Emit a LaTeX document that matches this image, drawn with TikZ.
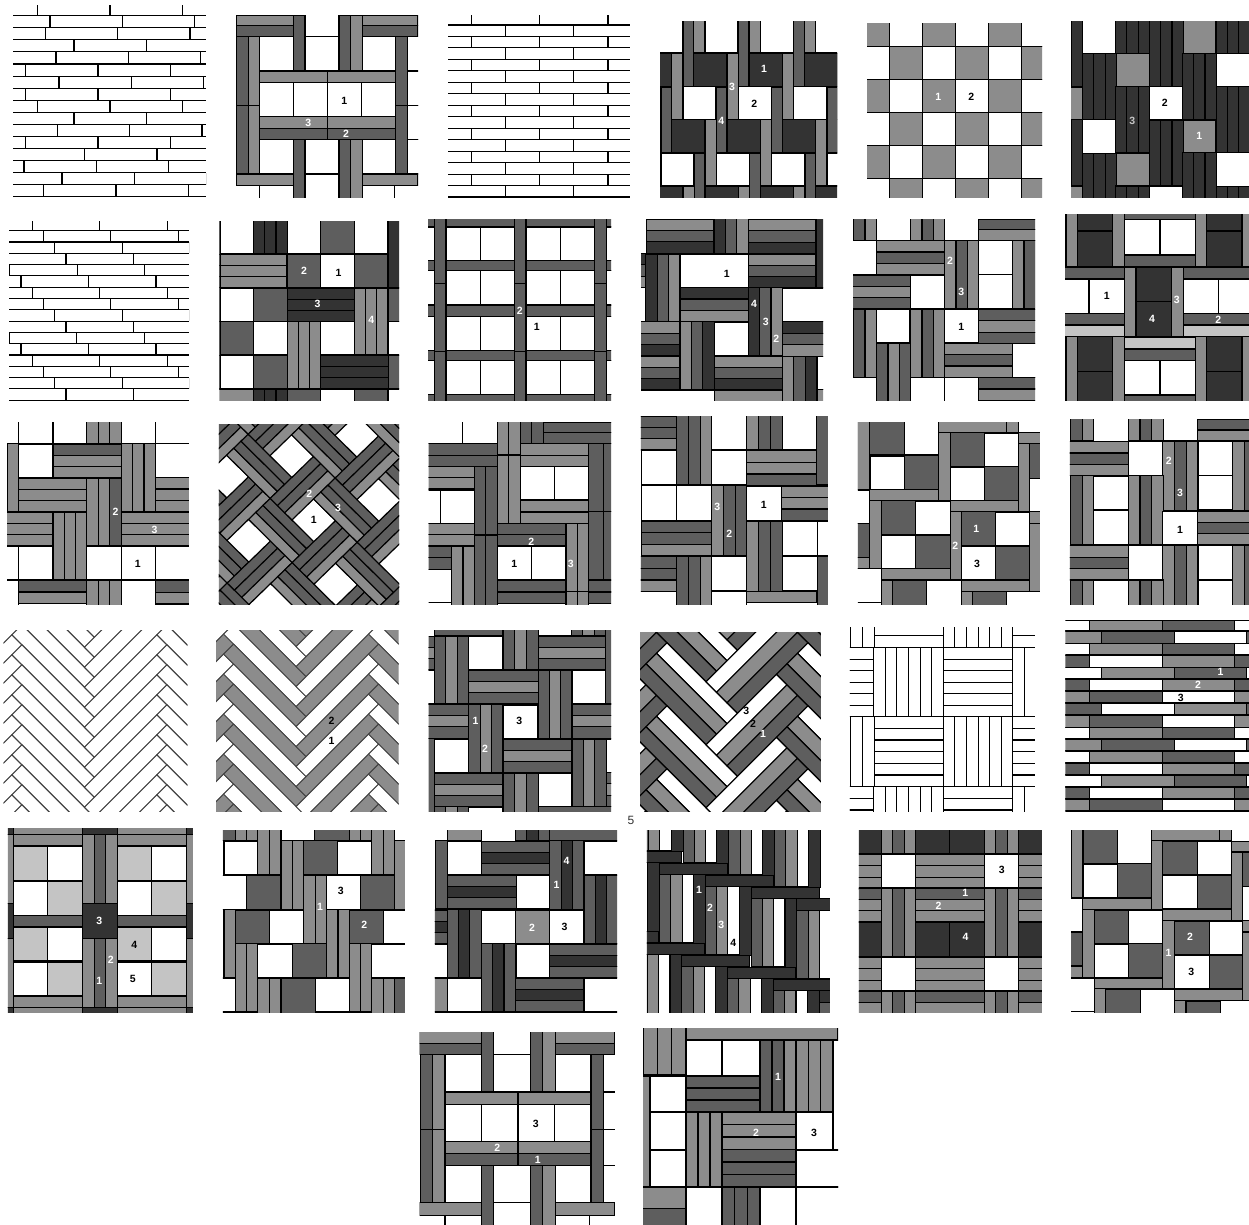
\documentclass[tikz,border=0pt]{standalone}
\usepackage{fontspec}
\newfontfamily\labfont{Liberation Sans}
\definecolor{G}{HTML}{8C8C8C}
\definecolor{D}{HTML}{5E5E5E}
\definecolor{K}{HTML}{333333}
\definecolor{L}{HTML}{C4C4C4}
\definecolor{W}{HTML}{FFFFFF}
\newcounter{labno}
\tikzset{
  plank/.style={draw=black, line width=1.1pt},
  thinplank/.style={draw=black!75, line width=0.9pt},
  numlab/.style={inner sep=0pt, font=\labfont\bfseries\fontsize{10.5}{11}\selectfont},
  fivelab/.style={inner sep=0pt, font=\labfont\fontsize{12}{13}\selectfont, text=black!80}
}
\newcommand\tile[9]{\pgfmathsetmacro\sxx{1/#3}\pgfmathsetmacro\syy{-1/#4}%
  \begin{scope}[shift={(#1,#2)}]\begin{scope}[x=\sxx pt,y=\syy pt]
  \clip (#5,#6) rectangle (#7,#8); #9
  \end{scope}\end{scope}}
\newcommand\plank[5]{\draw[plank,fill=#1] ({#2},{#3}) -- ({#4},{#3}) -- ({#4},{#5}) -- ({#2},{#5}) -- cycle;}
\newcommand\countstrips[1]{\gdef\nn{0}\foreach \pc in {#1}{\pgfmathtruncatemacro\mm{\nn+1}\global\let\nn\mm}}
\newcommand\hset[5]{\countstrips{#5}\foreach \pc [count=\k from 0] in {#5}{\plank{\pc}{#1}{#3+\k*(#4-#3)/\nn}{#2}{#3+(\k+1)*(#4-#3)/\nn}}}
\newcommand\vset[5]{\countstrips{#5}\foreach \pc [count=\k from 0] in {#5}{\plank{\pc}{#1+\k*(#2-#1)/\nn}{#3}{#1+(\k+1)*(#2-#1)/\nn}{#4}}}
\newcommand\lattice[7]{\foreach \ii in {-#1,...,#1}{\foreach \jj in {-#2,...,#2}{\begin{scope}[shift={({\ii*#3+\jj*#5},{\ii*#4+\jj*#6})}] #7 \end{scope}}}}
\newcommand\bricks[6]{\foreach \vv [count=\k from 0] in {#6}{\draw[plank] (#1,{#3+\k*#4}) -- (#2,{#3+\k*#4});
  \foreach \m in {-1,...,3}{\draw[plank] ({\vv+\m*#5},{#3+(\k-1)*#4}) -- ({\vv+\m*#5},{#3+\k*#4});}}}
\newcommand\brow[7]{\plank{#4}{#3-182}{#1}{#3}{#2}\plank{#5}{#3}{#1}{#3+182}{#2}\plank{#6}{#3+182}{#1}{#3+364}{#2}\plank{#7}{#3+364}{#1}{#3+546}{#2}}
\newcommand\chev[1]{\draw[thinplank,fill=#1] (0,0) -- (-10,10) -- (-82.5,-62.5) -- (-72.5,-72.5) -- cycle;
  \draw[thinplank,fill=#1] (0,0) -- (-10,-10) -- (62.5,-82.5) -- (72.5,-72.5) -- cycle;}
\newcommand\chevb{\foreach \s/\pc in {0/W,1/G,2/D}{
  \draw[plank,fill=\pc] ({-\s*10.5},{\s*10.5}) -- ({-(\s+1)*10.5},{(\s+1)*10.5}) -- ({-(\s+1)*10.5-70.5},{(\s+1)*10.5-70.5}) -- ({-\s*10.5-70.5},{\s*10.5-70.5}) -- cycle;
  \draw[plank,fill=\pc] ({-(3-\s)*10.5},{-(3-\s)*10.5}) -- ({-(2-\s)*10.5},{-(2-\s)*10.5}) -- ({-(2-\s)*10.5+70.5},{-(2-\s)*10.5-70.5}) -- ({-(3-\s)*10.5+70.5},{-(3-\s)*10.5-70.5}) -- cycle;}}
\newcommand\numlab[4]{\stepcounter{labno}\node[numlab,text=#1] (lab\thelabno) at (#2,#3) {#4};}
\newcommand\openweave{%
  \hset{708}{880}{45}{109}{G,D}\hset{1087}{1254}{45}{109}{G,D}
  \plank{D}{880}{45}{915}{213}\vset{1017}{1087}{45}{213}{D,G}\plank{W}{915}{109}{1017}{213}
  \vset{710}{779}{109}{317}{D,G}\vset{710}{779}{317}{522}{D,G}
  \plank{W}{779}{109}{880}{213}\plank{W}{1087}{109}{1187}{213}
  \plank{G}{779}{213}{983}{248}\plank{G}{983}{213}{1187}{248}
  \foreach \xa/\xb in {779/881,881/983,983/1085,1085/1187}{\plank{W}{\xa}{248}{\xb}{350}}
  \plank{G}{779}{350}{983}{385}\plank{G}{983}{350}{1187}{385}
  \plank{D}{779}{385}{983}{419}\plank{D}{983}{385}{1187}{419}
  \plank{W}{779}{419}{880}{522}\plank{D}{880}{419}{915}{620}\plank{W}{915}{419}{1017}{522}\plank{W}{915}{522}{1017}{620}
  \vset{1017}{1087}{419}{620}{D,G}\plank{W}{1087}{419}{1187}{522}
  \plank{D}{1187}{109}{1222}{317}\plank{D}{1187}{317}{1222}{522}
  \plank{W}{1222}{213}{1300}{317}\plank{W}{1222}{317}{1300}{419}\plank{W}{1222}{419}{1300}{522}
  \plank{G}{708}{522}{880}{557}\plank{G}{1087}{522}{1254}{557}
  \plank{W}{779}{557}{880}{640}\plank{W}{1087}{557}{1183}{640}}
\begin{document}
\begin{tikzpicture}[x=1pt,y=-1pt]
\useasboundingbox (0,0) rectangle (1249,1224);
\fill[white] (0,0) rectangle (1249,1224);
\node[fivelab] (five) at (631,820) {5};
\tile{0}{0}{3}{3}{39}{15}{618}{594}{\bricks{39}{618}{47}{36.25}{217}{113,150,136,222,168,77,177,77,113,222,172,77,254,72,186,131}}
\tile{0}{0}{3}{3}{708}{45}{1254}{593}{\openweave
  \numlab{black}{1033}{302}{1}\numlab{white}{925}{370}{3}\numlab{white}{1038}{402}{2}}
\tile{425}{0}{3}{3}{69}{45}{615}{594}{\bricks{69}{615}{75}{34.4}{205}{139,241,139,241,139,241,139,241,139,241,139,241,139,241,139,241}}
\tile{425}{0}{3}{3}{705}{63}{1236}{593}{\lattice{4}{3}{166}{0}{-66}{199}{\plank{K}{806}{160}{906}{260}\plank{G}{906}{160}{940}{358}\plank{D}{940}{62}{972}{260}\plank{W}{774}{260}{873}{358}}
  \numlab{white}{1017}{208}{1}\numlab{black}{988}{312}{2}\numlab{white}{921}{262}{3}\numlab{white}{889}{362}{4}}
\tile{850}{0}{3}{3}{51}{69}{576}{593}{\lattice{3}{5}{198}{0}{99}{99}{\plank{G}{118}{140}{217}{238}\plank{W}{217}{140}{316}{238}}
  \numlab{white}{265}{290}{1}\numlab{black}{364}{290}{2}}
\tile{850}{0}{3}{3}{663}{63}{1197}{593}{\lattice{3}{3}{200.5}{-99.5}{0}{298}{\vset{797}{898}{260}{458}{K,K,K}\vset{898}{1000}{360}{558}{K,K,K}\plank{W}{898}{260}{1000}{360}\plank{G}{1000}{360}{1098}{458}}
  \numlab{black}{944}{308}{2}\numlab{L}{847}{362}{3}\numlab{white}{1048}{408}{1}}
\tile{0}{205}{3}{3}{27}{48}{567}{587}{\bricks{27}{567}{77}{33.9}{202.5}{97,130,164,198,232,63,97,130,164,198,28,63,97,130,164,198}}
\tile{0}{205}{3}{3}{658}{48}{1197}{585}{
  \hset{660}{860}{148}{247}{G,G,G}\vset{760}{862}{30}{147}{K,K,K}\plank{W}{660}{30}{760}{147}\plank{W}{862}{30}{962}{147}\plank{D}{962}{30}{1064}{147}\plank{W}{1064}{30}{1164}{147}\plank{K}{1164}{30}{1230}{247}
  \plank{D}{862}{148}{962}{247}\plank{W}{962}{148}{1064}{247}\plank{D}{1064}{148}{1164}{247}
  \plank{W}{660}{249}{760}{349}\plank{D}{760}{249}{862}{349}\hset{862}{1064}{249}{349}{K,K,K}\vset{1064}{1164}{249}{450}{G,G,G}\plank{D}{1164}{249}{1230}{349}
  \plank{D}{660}{349}{760}{450}\plank{W}{760}{349}{862}{450}\vset{862}{962}{349}{552}{G,G,G}\plank{W}{962}{349}{1064}{450}\plank{W}{1164}{349}{1230}{450}
  \plank{W}{660}{452}{760}{552}\plank{D}{760}{452}{862}{552}\hset{962}{1165}{452}{552}{K,K,K}\plank{D}{1165}{452}{1230}{552}
  \plank{G}{640}{552}{760}{620}\vset{760}{862}{552}{620}{K,K,K}\plank{D}{862}{552}{962}{620}\plank{D}{1064}{552}{1164}{620}
  \numlab{white}{912}{196}{2}\numlab{black}{1016}{204}{1}\numlab{white}{953}{297}{3}\numlab{white}{1114}{344}{4}}
\tile{425}{205}{3}{3}{9}{42}{558}{587}{
  \foreach \ya/\yb in {30/66,167/197,300/334,437/467,568/610}{\plank{D}{0}{\ya}{28}{\yb}\plank{D}{63}{\ya}{268}{\yb}\plank{D}{303}{\ya}{509}{\yb}\plank{D}{544}{\ya}{570}{\yb}}
  \foreach \ya/\yb in {66/167,197/300,334/437,467/568}{\plank{W}{0}{\ya}{28}{\yb}\plank{W}{63}{\ya}{166}{\yb}\plank{W}{166}{\ya}{268}{\yb}\plank{W}{303}{\ya}{406}{\yb}\plank{W}{406}{\ya}{509}{\yb}\plank{W}{544}{\ya}{570}{\yb}}
  \foreach \xa in {28,268,509}{\plank{D}{\xa}{30}{\xa+35}{236}\plank{D}{\xa}{236}{\xa+35}{440}\plank{D}{\xa}{440}{\xa+35}{610}}
  \numlab{white}{284}{316}{2}\numlab{black}{335}{366}{1}}
\tile{425}{205}{3}{3}{648}{42}{1194}{587}{
  \hset{664}{867}{42}{145}{G,D,K}\vset{867}{970}{30}{145}{K,D,G}\hset{970}{1173}{42}{147}{G,D,K}\plank{K}{1173}{30}{1230}{248}
  \hset{630}{662}{145}{248}{K,D,G}\vset{662}{765}{147}{350}{K,D,G}\plank{W}{765}{147}{970}{248}\hset{970}{1173}{147}{248}{G,D,K}
  \hset{765}{970}{248}{350}{K,D,G}\vset{970}{1072}{248}{452}{K,D,G}\plank{W}{1072}{250}{1230}{350}
  \hset{630}{765}{350}{453}{G,D,K}\vset{765}{868}{350}{555}{G,D,K}\plank{W}{868}{352}{970}{452}\hset{1072}{1230}{350}{454}{K,D,G}
  \hset{630}{765}{454}{555}{G,D,K}\hset{868}{1072}{454}{555}{G,D,K}\vset{1072}{1176}{454}{620}{G,D,K}\plank{W}{1176}{454}{1230}{553}\plank{G}{1176}{553}{1230}{620}
  \plank{G}{868}{557}{1072}{620}
  \numlab{black}{905}{208}{1}\numlab{white}{987}{298}{4}\numlab{white}{1022}{352}{3}\numlab{white}{1054}{400}{2}}
\tile{850}{205}{3}{3}{9}{42}{555}{587}{
  \vset{10}{80}{30}{107}{D,G}\vset{182}{284}{30}{107}{G,D,G}\hset{386}{590}{42}{107}{D,G}
  \plank{W}{-10}{107}{80}{209}\hset{80}{284}{107}{209}{G,D,G}\vset{284}{386}{107}{312}{G,D,G}\plank{W}{386}{107}{488}{209}\plank{W}{386}{209}{488}{312}\vset{488}{556}{107}{312}{G,D}
  \hset{-10}{182}{210}{312}{D,G,D}\plank{W}{182}{210}{284}{312}
  \vset{10}{80}{312}{517}{D,G}\plank{W}{80}{314}{180}{412}\vset{182}{284}{312}{517}{G,D,G}\plank{W}{284}{314}{386}{412}\hset{386}{590}{314}{415}{D,G,D}
  \vset{80}{182}{415}{620}{D,G,D}\hset{284}{488}{415}{517}{G,D,G}\plank{W}{488}{415}{590}{517}
  \plank{W}{182}{517}{284}{620}\plank{W}{284}{517}{386}{620}\hset{386}{590}{517}{587}{D,G}\plank{W}{-10}{517}{80}{620}
  \numlab{white}{300}{166}{2}\numlab{white}{334}{260}{3}\numlab{black}{334}{366}{1}}
\tile{850}{205}{3}{3}{645}{27}{1197}{587}{
  \foreach \xa in {0,388}{
    \plank{G}{648+\xa}{10}{682+\xa}{184}\plank{K}{682+\xa}{10}{788+\xa}{78}\plank{K}{682+\xa}{78}{788+\xa}{184}\plank{G}{788+\xa}{10}{824+\xa}{184}
    \plank{G}{648+\xa}{395}{682+\xa}{620}\plank{K}{682+\xa}{395}{788+\xa}{500}\plank{K}{682+\xa}{500}{788+\xa}{620}\plank{G}{788+\xa}{395}{824+\xa}{620}}
  \plank{D}{824}{10}{1036}{44}\plank{W}{824}{44}{930}{150}\plank{W}{930}{44}{1036}{150}\plank{D}{824}{150}{1036}{184}
  \plank{D}{600}{186}{824}{222}\plank{W}{600}{222}{717}{325}\plank{W}{717}{222}{824}{325}\plank{D}{600}{325}{824}{360}\plank{L}{600}{360}{824}{395}
  \plank{G}{824}{186}{858}{395}\plank{K}{858}{186}{964}{290}\plank{K}{858}{290}{964}{395}\plank{G}{964}{186}{1000}{395}
  \plank{D}{1000}{186}{1230}{222}\plank{W}{1000}{222}{1105}{325}\plank{W}{1105}{222}{1230}{325}\plank{D}{1000}{325}{1230}{360}\plank{L}{1000}{360}{1230}{395}
  \plank{L}{824}{397}{1036}{432}\plank{D}{824}{432}{1036}{466}\plank{W}{824}{466}{930}{570}\plank{W}{930}{466}{1036}{570}\plank{D}{824}{570}{1036}{620}
  \numlab{black}{770}{272}{1}\numlab{white}{980}{285}{3}\numlab{white}{906}{342}{4}\numlab{white}{1105}{345}{2}}
\tile{0}{410}{2.509}{3}{18}{36}{474}{582}{
  \plank{W}{47}{20}{133}{101}\plank{W}{133}{20}{218}{101}\vset{218}{304}{20}{101}{G,G,G}\plank{W}{304}{20}{390}{101}\plank{W}{390}{20}{500}{101}
  \plank{G}{18}{101}{47}{305}\plank{W}{47}{103}{133}{203}\hset{133}{304}{103}{203}{D,G,G}\vset{304}{390}{101}{305}{G,G,G}\plank{W}{390}{101}{500}{203}
  \hset{47}{218}{204}{305}{G,G,G}\vset{218}{304}{204}{408}{G,G,D}\hset{390}{500}{203}{305}{G,G,G}
  \hset{0}{133}{308}{408}{G,G,G}\vset{133}{218}{308}{510}{G,G,G}\hset{304}{500}{308}{408}{G,G,G}
  \plank{W}{47}{408}{133}{510}\plank{W}{218}{410}{304}{510}\plank{W}{304}{410}{390}{510}\plank{W}{390}{410}{500}{510}\plank{W}{0}{408}{47}{510}
  \hset{47}{218}{512}{580}{D,G}\vset{218}{304}{512}{600}{G,G,G}\plank{W}{304}{512}{390}{600}\hset{390}{500}{512}{582}{D,G}\plank{W}{0}{510}{47}{600}
  \numlab{white}{290}{306}{2}\numlab{white}{388}{360}{3}\numlab{black}{346}{462}{1}}
\tile{0}{410}{2.509}{3}{549}{42}{1001}{582}{
  \begin{scope}[shift={(732.6,330)},x={(21.6pt,21pt)},y={(21.8pt,-21.6pt)}]
  \lattice{4}{4}{2}{1}{-1}{2}{\plank{W}{0}{0}{1}{1}\vset{1}{2}{0}{2}{G,D,D}\hset{2}{4}{0}{1}{D,D,G}}
  \end{scope}
  \numlab{white}{776}{250}{2}\numlab{white}{848}{295}{3}\numlab{black}{787}{330}{1}}
\tile{0}{410}{2.509}{3}{1075}{36}{1533}{582}{
  \plank{W}{1060}{20}{1161}{101}\plank{W}{1161}{20}{1247}{101}\vset{1247}{1305}{20}{135}{G,G}\vset{1247}{1305}{135}{340}{G,G}\vset{1305}{1363}{20}{101}{D,D}\hset{1363}{1550}{36}{101}{D,D}
  \hset{1060}{1247}{101}{170}{D,D}\hset{1305}{1477}{101}{170}{G,G}\vset{1477}{1550}{101}{305}{D,D}\vset{1477}{1550}{305}{510}{D,D}
  \hset{1060}{1190}{170}{237}{G,G}\vset{1190}{1247}{170}{375}{D,D}\vset{1190}{1247}{375}{600}{D,D}\plank{W}{1305}{170}{1391}{270}\plank{W}{1391}{170}{1477}{270}
  \plank{W}{1060}{240}{1104}{340}\plank{W}{1104}{240}{1190}{340}\hset{1305}{1477}{272}{340}{G,G}
  \hset{1060}{1190}{340}{408}{G,G}\hset{1247}{1420}{340}{408}{D,D}\vset{1420}{1477}{340}{545}{G,G}\vset{1420}{1477}{545}{600}{G,G}
  \plank{W}{1247}{410}{1333}{510}\plank{W}{1333}{410}{1420}{510}\hset{1060}{1133}{408}{478}{D,D}\vset{1133}{1190}{408}{600}{G,G}\plank{W}{1060}{478}{1133}{578}
  \hset{1247}{1420}{512}{580}{D,D}\hset{1477}{1550}{512}{580}{D,D}
  \numlab{white}{1333}{394}{2}\numlab{black}{1290}{462}{1}\numlab{white}{1432}{462}{3}}
\tile{625}{410}{2.513}{3}{40}{18}{510}{582}{
  \hset{20}{130}{18}{120}{D,D,G}\vset{130}{218}{0}{225}{D,D,G}\plank{W}{218}{0}{306}{120}\vset{306}{396}{0}{120}{G,D,D}\plank{W}{396}{0}{482}{120}\plank{D}{482}{0}{530}{225}
  \plank{W}{42}{122}{130}{225}\plank{W}{218}{122}{306}{225}\hset{306}{482}{122}{227}{G,G,D}
  \plank{W}{42}{227}{130}{331}\plank{W}{130}{227}{218}{331}\vset{218}{306}{227}{438}{G,D,D}\plank{W}{306}{229}{394}{331}\hset{394}{530}{229}{331}{G,G,D}
  \hset{42}{218}{333}{438}{D,D,G}\vset{306}{396}{333}{545}{G,D,D}\plank{W}{396}{333}{484}{438}\plank{W}{484}{333}{530}{438}
  \hset{20}{130}{440}{545}{D,D,G}\vset{130}{218}{438}{600}{D,D,G}\plank{W}{218}{440}{306}{542}\plank{W}{396}{440}{484}{542}\plank{D}{484}{438}{530}{600}
  \plank{G}{306}{545}{482}{578}\plank{W}{218}{545}{306}{600}
  \numlab{white}{232}{290}{3}\numlab{white}{262}{372}{2}\numlab{black}{349}{284}{1}}
\tile{625}{410}{2.513}{3}{585}{36}{1043}{582}{
  \plank{G}{585}{20}{615}{238}\plank{D}{615}{20}{703}{135}\plank{G}{787}{20}{958}{67}\plank{G}{958}{20}{988}{67}\plank{G}{787}{67}{817}{272}\plank{D}{817}{67}{903}{170}\plank{W}{903}{69}{988}{170}
  \plank{G}{988}{67}{1060}{100}\plank{G}{988}{100}{1017}{305}\plank{D}{1017}{100}{1060}{205}
  \plank{W}{617}{138}{703}{238}\plank{D}{703}{135}{787}{238}\plank{W}{817}{172}{903}{272}\plank{D}{903}{170}{988}{272}
  \plank{W}{570}{240}{615}{340}\plank{G}{615}{238}{787}{272}\plank{G}{817}{272}{988}{305}\plank{G}{615}{272}{645}{476}\plank{D}{645}{272}{731}{375}\plank{W}{731}{274}{817}{375}\plank{W}{1017}{205}{1060}{305}
  \plank{G}{1017}{305}{1060}{340}\plank{G}{1017}{340}{1060}{545}\plank{G}{817}{305}{846}{510}\plank{D}{846}{305}{931}{408}\plank{W}{931}{308}{1017}{408}
  \plank{D}{570}{340}{615}{442}\plank{G}{570}{442}{615}{476}\plank{W}{645}{375}{731}{476}\plank{D}{731}{375}{817}{476}\plank{W}{846}{410}{931}{510}\plank{D}{931}{408}{1017}{510}
  \plank{W}{570}{476}{645}{578}\plank{G}{645}{476}{817}{510}\plank{G}{846}{510}{1017}{545}
  \plank{G}{645}{510}{673}{600}\plank{D}{673}{510}{758}{600}\plank{W}{758}{512}{846}{600}\plank{G}{846}{545}{873}{600}\plank{D}{873}{545}{958}{600}
  \numlab{white}{883}{356}{1}\numlab{white}{830}{406}{2}\numlab{black}{885}{462}{3}}
\tile{625}{410}{2.513}{3}{1118}{27}{1568}{582}{
  \vset{1120}{1178}{10}{93}{D,G}\vset{1265}{1353}{10}{93}{G,D,G}\hset{1438}{1590}{27}{93}{D,G}
  \hset{1100}{1265}{95}{197}{G,D,G}\plank{W}{1265}{95}{1352}{197}\vset{1352}{1440}{93}{302}{G,D,G}\plank{W}{1440}{95}{1526}{197}\plank{W}{1440}{197}{1526}{300}\vset{1526}{1586}{93}{302}{G,D}
  \vset{1120}{1178}{197}{405}{D,G}\plank{W}{1178}{199}{1265}{300}\plank{W}{1178}{300}{1265}{405}\vset{1265}{1353}{197}{405}{G,D,G}\plank{W}{1352}{304}{1438}{405}\hset{1438}{1590}{304}{405}{G,D,G}
  \hset{1100}{1265}{407}{510}{G,D,G}\plank{W}{1265}{407}{1352}{508}\vset{1352}{1440}{405}{600}{G,D,G}\plank{W}{1440}{407}{1526}{510}\plank{W}{1440}{510}{1526}{600}\vset{1526}{1586}{405}{600}{G,D}
  \vset{1120}{1178}{510}{600}{D,G}\plank{W}{1178}{510}{1265}{600}\vset{1265}{1353}{510}{600}{G,D,G}
  \numlab{white}{1367}{152}{2}\numlab{white}{1395}{248}{3}\numlab{black}{1395}{360}{1}}
\tile{0}{615}{2.509}{3}{9}{45}{470}{590}{
  \begin{scope}[shift={(237,127)},x=1pt,y=-1pt]\lattice{2}{14}{145}{0}{0}{20}{\chev{W}}\end{scope}}
\tile{0}{615}{2.509}{3}{542}{45}{1000}{590}{
  \begin{scope}[shift={(768,185)},x=1pt,y=-1pt]\lattice{2}{7}{145}{0}{0}{40}{\chev{G}\begin{scope}[shift={(0,20)}]\chev{W}\end{scope}}\end{scope}
  \numlab{black}{832}{318}{2}\numlab{black}{832}{378}{1}}
\tile{0}{615}{2.509}{3}{1075}{45}{1533}{590}{
  \plank{D}{1090}{30}{1262}{62}\vset{1090}{1176}{65}{267}{D,G,D}\hset{1060}{1090}{65}{165}{D,G,D}\plank{W}{1060}{165}{1090}{267}\plank{W}{1176}{65}{1262}{165}\vset{1262}{1350}{30}{165}{D,G,D}\hset{1350}{1520}{65}{165}{D,G,D}\plank{W}{1350}{30}{1433}{62}\vset{1433}{1520}{30}{62}{D,G,D}\plank{D}{1520}{30}{1550}{267}
  \hset{1176}{1350}{167}{267}{D,G,D}\vset{1350}{1435}{167}{370}{D,G,D}\plank{W}{1435}{167}{1520}{267}
  \hset{1060}{1176}{267}{370}{D,G,D}\vset{1176}{1262}{267}{472}{D,G,D}\plank{W}{1262}{270}{1348}{370}\hset{1435}{1550}{267}{370}{D,G,D}
  \plank{D}{1060}{370}{1090}{600}\plank{W}{1090}{372}{1176}{472}\hset{1262}{1435}{372}{472}{D,G,D}\vset{1435}{1521}{372}{575}{D,G,D}\plank{W}{1521}{372}{1550}{472}
  \hset{1090}{1262}{474}{575}{D,G,D}\vset{1262}{1350}{474}{600}{D,G,D}\plank{W}{1350}{474}{1435}{575}\hset{1521}{1550}{472}{575}{D,G,D}
  \vset{1090}{1176}{575}{600}{D,G,D}\plank{W}{1176}{577}{1262}{600}\plank{D}{1350}{575}{1550}{600}
  \numlab{white}{1193}{318}{1}\numlab{white}{1217}{402}{2}\numlab{black}{1303}{318}{3}}
\tile{625}{615}{2.513}{3}{38}{51}{492}{590}{
  \begin{scope}[shift={(283,295)},x=1pt,y=-1pt]\lattice{2}{4}{141}{0}{0}{63}{\chevb}\end{scope}
  \numlab{black}{305}{288}{3}\numlab{black}{322}{326}{2}\numlab{white}{347}{358}{1}}
\tile{625}{615}{2.513}{3}{565}{36}{1030}{590}{
  \vset{566}{626}{20}{98}{W,W}\hset{626}{800}{26}{98}{W,W}\vset{800}{975}{20}{98}{W,W,W,W,W,W}\hset{975}{1050}{26}{98}{W,W}
  \hset{545}{625}{98}{305}{W,W,W,W,W,W}\vset{625}{800}{98}{305}{W,W,W,W,W,W}\hset{800}{975}{98}{305}{W,W,W,W,W,W}\vset{975}{1031}{98}{305}{W,W}
  \vset{566}{626}{305}{515}{W,W}\hset{626}{800}{305}{515}{W,W,W,W,W,W}\vset{800}{975}{305}{515}{W,W,W,W,W,W}\hset{975}{1050}{305}{515}{W,W,W,W,W,W}
  \hset{545}{625}{515}{620}{W,W,W}\vset{625}{800}{515}{620}{W,W,W,W,W,W}\hset{800}{975}{515}{620}{W,W,W}\vset{975}{1031}{515}{620}{W,W}}
\tile{625}{615}{2.513}{3}{1107}{15}{1568}{590}{
  \brow{15}{48}{1168}{W}{G}{D}{W}\brow{48}{85}{1198}{G}{D}{W}{D}\brow{85}{120}{1168}{W}{G}{D}{W}\brow{122}{157}{1168}{D}{W}{G}{D}
  \brow{157}{192}{1198}{W}{G}{D}{W}\brow{192}{228}{1168}{D}{W}{G}{D}\brow{228}{264}{1168}{G}{D}{W}{G}\brow{264}{300}{1198}{D}{W}{G}{D}
  \brow{300}{338}{1168}{G}{D}{W}{G}\brow{338}{372}{1168}{W}{G}{D}{W}\brow{372}{408}{1198}{G}{D}{W}{D}\brow{408}{444}{1168}{W}{G}{D}{W}
  \brow{444}{480}{1168}{D}{W}{G}{D}\brow{480}{516}{1198}{W}{G}{D}{W}\brow{516}{552}{1168}{D}{W}{G}{D}\brow{552}{588}{1168}{G}{D}{W}{G}
  \numlab{white}{1497}{172}{1}\numlab{white}{1440}{208}{2}\numlab{black}{1397}{250}{3}}
\tile{0}{822}{2.509}{3}{20}{18}{484}{572}{
  \plank{K}{0}{0}{34}{38}\plank{G}{34}{0}{207}{38}\plank{K}{207}{0}{294}{38}\plank{G}{294}{0}{468}{38}\plank{K}{468}{0}{500}{38}
  \plank{G}{34}{38}{207}{72}\plank{G}{294}{38}{468}{72}\vset{207}{294}{38}{245}{G,D,G}\plank{G}{0}{38}{34}{245}\plank{G}{468}{38}{500}{245}
  \plank{L}{34}{72}{120}{175}\plank{W}{120}{72}{207}{175}\plank{W}{34}{177}{120}{280}\plank{L}{120}{177}{207}{280}
  \plank{L}{294}{72}{380}{175}\plank{W}{380}{72}{468}{175}\plank{W}{294}{177}{380}{280}\plank{L}{380}{177}{468}{280}
  \plank{K}{207}{245}{294}{350}\plank{D}{34}{280}{207}{315}\plank{D}{294}{280}{468}{315}\plank{K}{0}{245}{34}{350}\plank{K}{468}{245}{500}{350}
  \plank{L}{34}{315}{120}{417}\plank{W}{120}{315}{207}{417}\plank{W}{34}{420}{120}{522}\plank{L}{120}{420}{207}{522}
  \plank{L}{294}{315}{380}{417}\plank{W}{380}{315}{468}{417}\plank{W}{294}{420}{380}{522}\plank{L}{380}{420}{468}{522}
  \vset{207}{294}{350}{556}{G,D,G}\plank{G}{0}{350}{34}{556}\plank{G}{468}{350}{500}{556}
  \plank{G}{34}{522}{207}{556}\plank{G}{294}{522}{468}{556}
  \plank{K}{0}{556}{34}{600}\plank{G}{34}{556}{207}{600}\plank{K}{207}{556}{294}{600}\plank{G}{294}{556}{468}{600}\plank{K}{468}{556}{500}{600}
  \numlab{white}{249}{296}{3}\numlab{white}{278}{414}{2}\numlab{white}{249}{478}{1}\numlab{black}{337}{370}{4}\numlab{black}{333}{470}{5}}
\tile{0}{822}{2.509}{3}{559}{24}{1016}{572}{
  \plank{D}{540}{0}{590}{56}\vset{590}{647}{0}{56}{G,G}\vset{647}{705}{0}{158}{G,G}\plank{D}{790}{0}{876}{56}\vset{876}{933}{0}{56}{G,G}\vset{933}{990}{0}{158}{G,G}
  \plank{W}{562}{58}{647}{158}\vset{705}{762}{56}{262}{G,G}\plank{D}{762}{56}{847}{158}\plank{W}{847}{58}{933}{158}\plank{G}{990}{56}{1040}{262}
  \plank{W}{540}{160}{618}{262}\plank{D}{618}{160}{705}{262}\vset{762}{820}{160}{365}{G,G}\plank{W}{820}{160}{905}{262}\plank{D}{905}{160}{990}{262}
  \plank{G}{562}{262}{590}{466}\plank{D}{590}{264}{676}{365}\plank{W}{676}{264}{762}{365}\vset{820}{876}{262}{466}{G,G}\plank{D}{876}{264}{961}{365}\plank{W}{961}{264}{1040}{365}
  \vset{590}{647}{365}{570}{G,G}\plank{W}{647}{367}{733}{466}\plank{D}{733}{365}{820}{466}\vset{876}{933}{365}{570}{G,G}\plank{W}{933}{367}{1040}{466}
  \plank{W}{540}{468}{590}{570}\vset{647}{705}{468}{600}{G,G}\plank{D}{705}{468}{791}{600}\plank{W}{791}{470}{876}{570}\vset{933}{990}{468}{600}{G,G}\plank{D}{990}{468}{1040}{600}
  \numlab{black}{855}{208}{3}\numlab{white}{803}{256}{1}\numlab{white}{914}{308}{2}}
\tile{0}{822}{2.509}{3}{1091}{24}{1548}{572}{
  \plank{G}{1122}{0}{1207}{56}\vset{1293}{1379}{0}{56}{D,K,D}\plank{D}{1379}{0}{1570}{56}
  \plank{D}{1093}{56}{1122}{260}\plank{W}{1122}{58}{1207}{158}\hset{1207}{1379}{58}{158}{D,K,D}\vset{1379}{1465}{56}{262}{D,K,D}\plank{W}{1465}{58}{1570}{158}
  \hset{1122}{1295}{160}{260}{D,K,D}\plank{W}{1295}{160}{1379}{260}\vset{1465}{1551}{160}{365}{D,K,D}
  \hset{1070}{1122}{264}{364}{D,K,D}\vset{1122}{1207}{262}{466}{D,K,D}\plank{W}{1207}{264}{1293}{365}\plank{G}{1293}{264}{1379}{365}\plank{W}{1379}{264}{1465}{365}
  \plank{W}{1070}{366}{1122}{466}\vset{1207}{1293}{365}{570}{D,K,D}\plank{W}{1295}{367}{1379}{466}\hset{1379}{1570}{366}{466}{D,K,D}
  \plank{G}{1070}{468}{1122}{570}\plank{W}{1122}{468}{1207}{570}\hset{1293}{1465}{468}{570}{D,K,D}\plank{W}{1465}{468}{1570}{570}
  \numlab{white}{1421}{118}{4}\numlab{white}{1396}{188}{1}\numlab{white}{1335}{316}{2}\numlab{black}{1416}{316}{3}}
\tile{625}{822}{2.513}{3}{55}{24}{515}{572}{
  \lattice{3}{2}{115}{35.5}{56}{276}{\plank{K}{87}{124}{258}{158}\vset{87}{172}{158}{363}{D,G,W}\plank{K}{172}{158}{202}{365}}
  \numlab{white}{186}{204}{1}\numlab{white}{214}{256}{2}\numlab{white}{242}{310}{3}\numlab{black}{272}{362}{4}}
\tile{625}{822}{2.513}{3}{588}{24}{1048}{572}{
  \plank{K}{570}{0}{645}{95}\vset{645}{730}{0}{95}{G,D,G}\plank{K}{730}{0}{816}{95}\plank{K}{816}{0}{903}{95}\vset{903}{990}{0}{95}{G,D,G}\plank{K}{990}{0}{1070}{95}
  \foreach \ya in {95,403}{\hset{570}{645}{\ya+2}{\ya+102}{G,G,G}\plank{W}{645}{\ya+2}{730}{\ya+102}\hset{730}{903}{\ya+2}{\ya+102}{G,G,G}\plank{W}{903}{\ya+2}{990}{\ya+102}\hset{990}{1070}{\ya+2}{\ya+102}{G,G,G}}
  \foreach \ya/\yb in {198/300,507/607}{\hset{570}{645}{\ya}{\yb}{D,G,G}\vset{645}{730}{\ya}{\yb+103}{G,D,G}\hset{730}{903}{\ya}{\yb}{D,G,G}\vset{903}{990}{\ya}{\yb+103}{G,D,G}\hset{990}{1070}{\ya}{\yb}{D,G,G}}
  \plank{K}{570}{300}{645}{403}\plank{K}{730}{300}{816}{403}\plank{K}{816}{300}{903}{403}\plank{K}{990}{300}{1070}{403}
  \numlab{black}{947}{144}{3}\numlab{white}{855}{212}{1}\numlab{white}{788}{252}{2}\numlab{white}{856}{344}{4}}
\tile{625}{822}{2.513}{3}{1121}{24}{1568}{572}{
  \plank{G}{1122}{0}{1150}{226}\plank{D}{1152}{0}{1238}{125}\plank{G}{1324}{0}{1495}{55}\plank{G}{1495}{0}{1525}{55}\plank{G}{1324}{55}{1352}{262}\plank{D}{1352}{58}{1438}{158}\plank{W}{1438}{58}{1525}{158}\plank{G}{1525}{58}{1590}{90}\plank{G}{1525}{90}{1553}{295}\plank{D}{1553}{90}{1590}{193}
  \plank{W}{1152}{127}{1238}{226}\plank{D}{1238}{125}{1324}{226}\plank{W}{1352}{160}{1438}{260}\plank{D}{1438}{160}{1525}{260}
  \plank{W}{1100}{228}{1150}{328}\plank{G}{1150}{228}{1324}{262}\plank{G}{1352}{262}{1525}{295}\plank{G}{1150}{262}{1180}{466}\plank{D}{1180}{264}{1266}{364}\plank{W}{1266}{264}{1352}{364}\plank{W}{1553}{193}{1590}{295}
  \plank{G}{1352}{295}{1382}{500}\plank{D}{1382}{297}{1468}{398}\plank{W}{1468}{297}{1553}{398}\plank{G}{1553}{295}{1590}{330}\plank{G}{1553}{330}{1590}{535}
  \plank{D}{1100}{330}{1150}{432}\plank{G}{1100}{432}{1150}{466}\plank{W}{1180}{366}{1266}{466}\plank{D}{1266}{364}{1352}{466}\plank{W}{1382}{400}{1468}{500}\plank{D}{1468}{400}{1553}{500}
  \plank{W}{1100}{468}{1180}{568}\plank{G}{1180}{468}{1352}{500}\plank{G}{1382}{503}{1553}{535}\plank{G}{1180}{500}{1208}{600}\plank{D}{1208}{503}{1295}{600}\plank{W}{1295}{503}{1382}{600}\plank{G}{1382}{535}{1410}{600}\plank{D}{1410}{537}{1497}{600}
  \numlab{white}{1366}{393}{1}\numlab{white}{1420}{345}{2}\numlab{black}{1423}{450}{3}}
\tile{166.3}{1015.8}{2.795}{2.795}{708}{48}{1254}{582}{\openweave
  \numlab{black}{1033}{302}{3}\numlab{white}{925}{370}{2}\numlab{white}{1038}{402}{1}}
\tile{0}{0}{1}{1}{643}{1028}{838}{1224}{
  \vset{643}{686}{1020}{1075}{G,G,G}\plank{G}{686}{1020}{838}{1040}\plank{W}{686}{1040}{722}{1076}\plank{W}{722}{1040}{760}{1076}
  \vset{760}{796}{1040}{1112}{D,D,G}\vset{796}{833}{1040}{1112}{G,G,G}\plank{G}{630}{1076}{650}{1187}
  \plank{W}{650}{1076}{686}{1112}\plank{W}{650}{1112}{686}{1150}\plank{W}{650}{1150}{686}{1187}
  \hset{686}{760}{1076}{1112}{D,D,D}\vset{686}{722}{1112}{1187}{G,G,G}\hset{722}{796}{1112}{1187}{G,G,G,D,D,D}
  \plank{W}{796}{1112}{833}{1150}\plank{W}{796}{1150}{850}{1187}
  \hset{630}{686}{1187}{1230}{G,D}\plank{W}{686}{1187}{722}{1230}\vset{722}{760}{1187}{1230}{D,D,D}\plank{W}{760}{1187}{796}{1230}\plank{W}{796}{1187}{850}{1230}
  \numlab{white}{778}{1077}{1}\numlab{white}{756}{1133}{2}\numlab{black}{814}{1133}{3}}
\end{tikzpicture}
\end{document}
